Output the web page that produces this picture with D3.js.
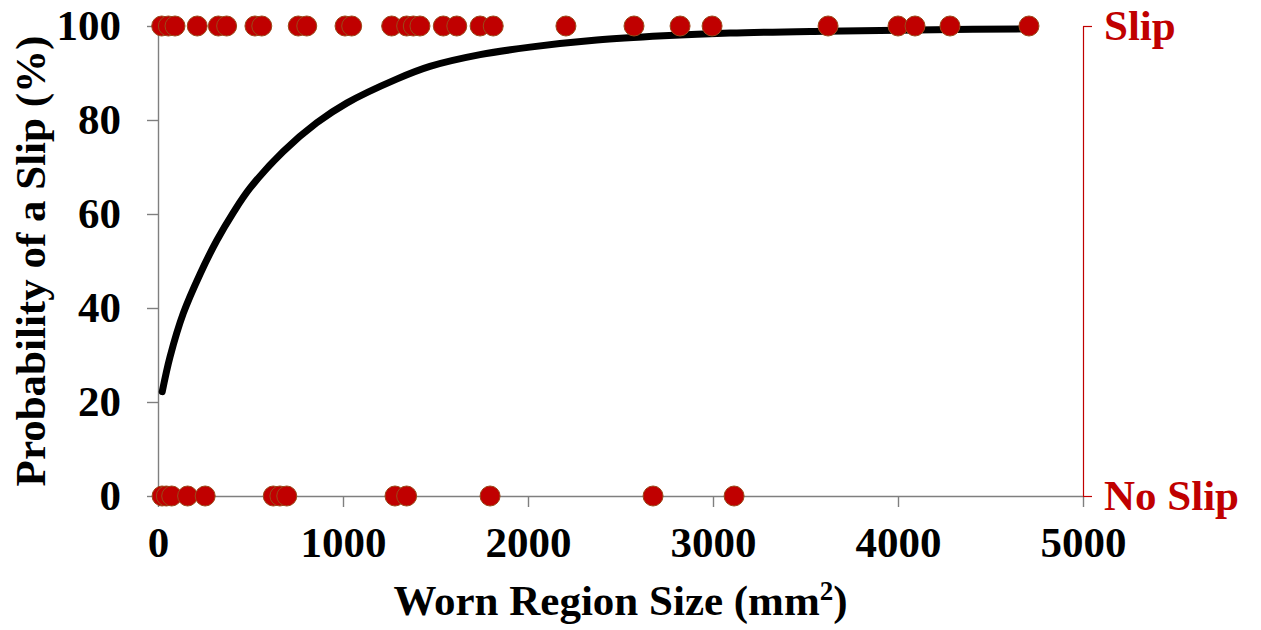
<!DOCTYPE html>
<html>
<head>
<meta charset="utf-8">
<script src="https://cdn.jsdelivr.net/npm/d3@7"></script>
<style>
  body { margin: 0; background: #fff; }
  text { font-family: "Liberation Serif", "Times New Roman", serif; font-weight: bold; }
</style>
</head>
<body>
<script>
// worn region size (mm2) of trials that slipped / did not slip
const slipSizes = [20, 56, 92, 212, 326, 371, 524, 561, 758, 804, 1011, 1047, 1263, 1344, 1380, 1416,
  1542, 1615, 1741, 1812, 2205, 2573, 2822, 2995, 3622, 4000, 4092, 4281, 4708];
const noSlipSizes = [22, 45, 74, 160, 255, 623, 659, 696, 1281, 1344, 1795, 2676, 3114];

// fitted probability curve
const curveX = [23, 65, 137, 227, 317, 407, 497, 677, 858, 1020, 1290, 1470, 1741, 2011, 2372, 2732, 3092, 3600, 4200, 4715];
const curveP = [22.2, 29.6, 38.9, 47.2, 54.3, 60.3, 65.5, 73.3, 79.4, 83.6, 88.7, 91.4, 93.9, 95.5, 97.0, 97.9, 98.5, 98.9, 99.2, 99.4];

const xTicks = [0, 1000, 2000, 3000, 4000, 5000];
const yTicks = [0, 20, 40, 60, 80, 100];

const margin = { top: 26, right: 178, bottom: 134, left: 158 };
const width = 1261 - margin.left - margin.right;
const height = 630 - margin.top - margin.bottom;

const red = "#c00000";
const axisGrey = "#7f7f7f";

const svg = d3.select("body")
  .append("svg")
  .attr("width", 1261)
  .attr("height", 630)
  .append("g")
  .attr("transform", "translate(" + margin.left + "," + margin.top + ")");

const x = d3.scaleLinear().domain([0, 5000]).range([0, width]);
const y = d3.scaleLinear().domain([0, 100]).range([height, 0]);

// x axis
const xAxis = svg.append("g")
  .attr("transform", "translate(0," + height + ")")
  .call(d3.axisBottom(x).tickValues(xTicks).tickFormat(d3.format("d"))
    .tickSize(11).tickSizeOuter(0).tickPadding(19));

// y axis
const yAxis = svg.append("g")
  .call(d3.axisLeft(y).tickValues(yTicks).tickFormat(d3.format("d"))
    .tickSize(11).tickSizeOuter(0).tickPadding(26));

[xAxis, yAxis].forEach(function(a) {
  a.select(".domain").attr("stroke", axisGrey).attr("stroke-width", 1.4);
  a.selectAll(".tick line").attr("stroke", axisGrey).attr("stroke-width", 1.4);
  a.selectAll(".tick text")
    .attr("fill", "#000")
    .style("font-size", "43px")
    .style("font-family", "'Liberation Serif', serif")
    .style("font-weight", "bold");
});
xAxis.selectAll(".tick text").attr("dy", "0.72em");

// right hand axis: Slip / No Slip
const yRight = d3.scalePoint().domain(["No Slip", "Slip"]).range([height, 0]);
const rAxis = svg.append("g")
  .attr("transform", "translate(" + width + ",0)")
  .call(d3.axisRight(yRight).tickSize(9).tickSizeOuter(0).tickPadding(12));
rAxis.select(".domain").attr("stroke", red).attr("stroke-width", 1.2);
rAxis.selectAll(".tick line").attr("stroke", red).attr("stroke-width", 1.2);
rAxis.selectAll(".tick text")
  .attr("fill", red)
  .style("font-size", "43px")
  .style("font-family", "'Liberation Serif', serif")
  .style("font-weight", "bold");

// curve
const line = d3.line()
  .x((d, i) => x(curveX[i]))
  .y((d, i) => y(curveP[i]))
  .curve(d3.curveCatmullRom.alpha(0.5));

svg.append("path")
  .datum(curveX)
  .attr("d", line)
  .attr("fill", "none")
  .attr("stroke", "#000")
  .attr("stroke-width", 7)
  .attr("stroke-linecap", "round");

// points
const pts = noSlipSizes.map(d => ({ size: d, p: 0 }))
  .concat(slipSizes.map(d => ({ size: d, p: 100 })));

svg.selectAll(".dot")
  .data(pts)
  .enter()
  .append("circle")
  .attr("class", "dot")
  .attr("cx", d => x(d.size))
  .attr("cy", d => y(d.p))
  .attr("r", 10)
  .attr("fill", red)
  .attr("stroke", "#9a4a1a")
  .attr("stroke-width", 1);

// axis titles
const xTitle = svg.append("text")
  .attr("x", width / 2)
  .attr("y", height + 119)
  .attr("text-anchor", "middle")
  .style("font-size", "43px");
xTitle.append("tspan").text("Worn Region Size (mm");
xTitle.append("tspan").text("2").attr("baseline-shift", "super").style("font-size", "27px");
xTitle.append("tspan").text(")");

svg.append("text")
  .attr("transform", "translate(" + (-113) + "," + (height / 2) + ") rotate(-90)")
  .attr("text-anchor", "middle")
  .style("font-size", "43px")
  .text("Probability of a Slip (%)");
</script>
</body>
</html>
